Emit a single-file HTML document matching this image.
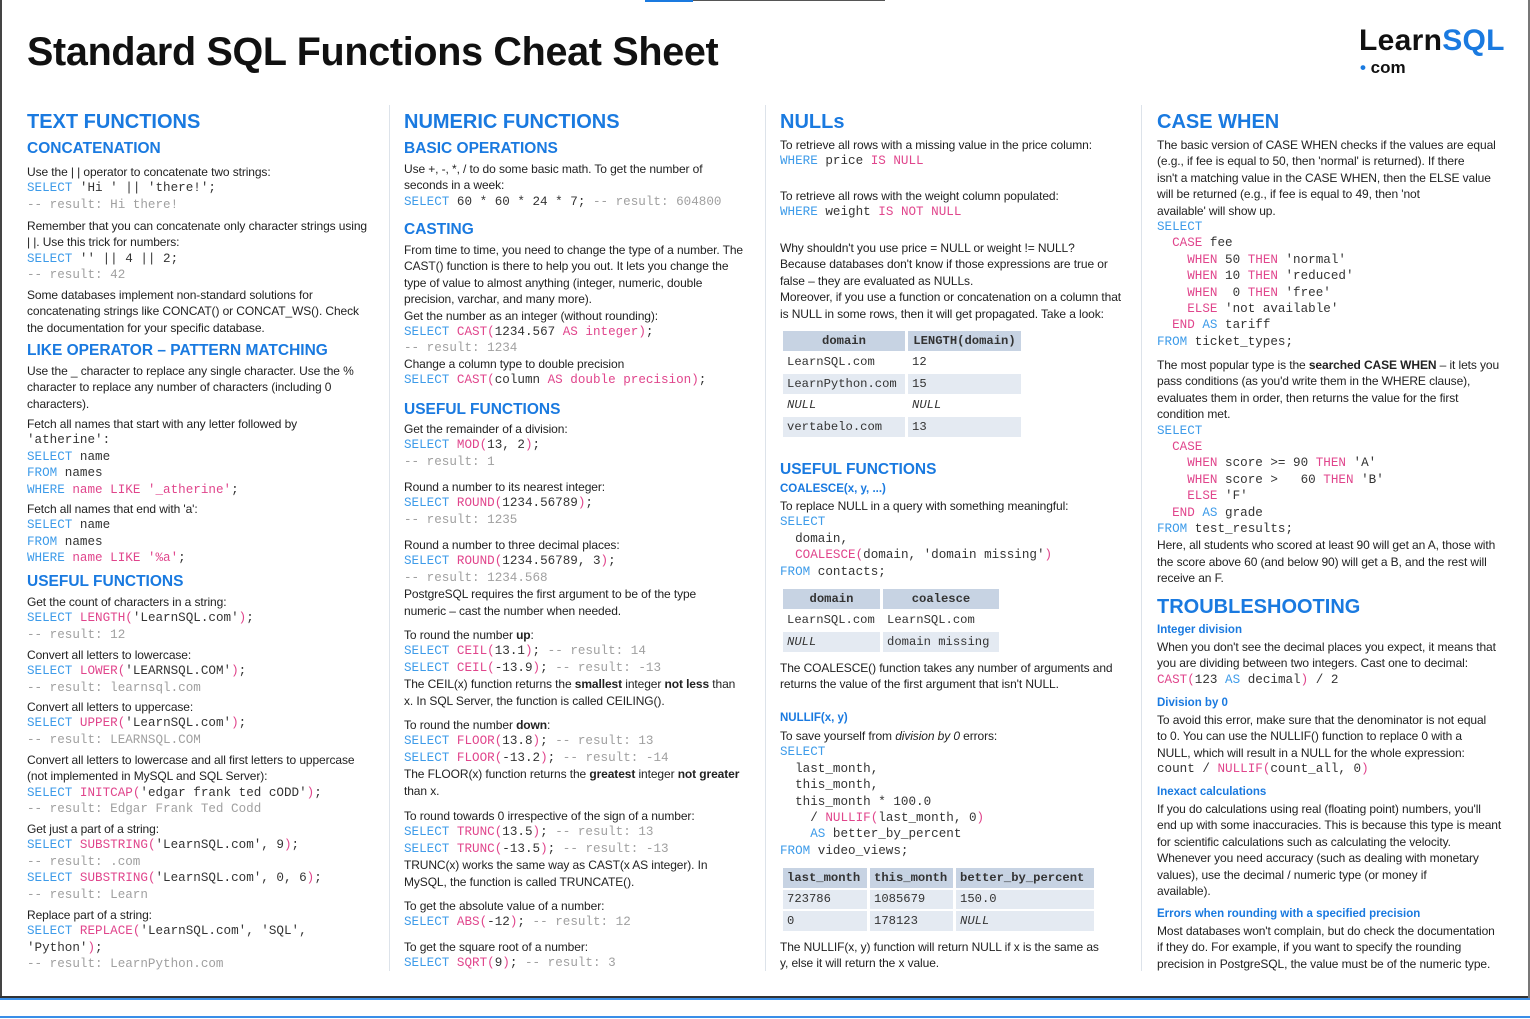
<!DOCTYPE html>
<html><head><meta charset="utf-8">
<style>
*{margin:0;padding:0;box-sizing:border-box}
body{width:1530px;height:1019px;background:#fff;position:relative;overflow:hidden;font-family:"Liberation Sans",sans-serif;color:#222}
.b{position:absolute;font-size:12px;line-height:16.4px;white-space:nowrap;letter-spacing:-0.1px}
.b div{height:16.4px}
.b .m{font-family:"Liberation Mono",monospace;font-size:12.6px;letter-spacing:0;color:#333}
.b .k,.k{color:#3d9be9}.b .f,.f{color:#e0458c}.b .c,.c{color:#a0a0a0}
.h1{position:absolute;font-weight:bold;font-size:20px;color:#1a7ae0;white-space:nowrap;letter-spacing:0}
.h2{position:absolute;font-weight:bold;font-size:15.5px;color:#1a7ae0;white-space:nowrap}
.h3{position:absolute;font-weight:bold;font-size:11.5px;color:#1a7ae0;white-space:nowrap}
.vl{position:absolute;top:105px;height:866px;width:1px;background:#dde3ea}
table{position:absolute;border-collapse:separate;border-spacing:3px 2px;font-family:"Liberation Mono",monospace;font-size:12.2px;color:#333}
td,th{height:19.5px;padding:0 4px;text-align:left}
th{background:#c7d3e3;text-align:center;font-weight:bold}
tr.g td{background:#e4eaf2}
i{font-style:italic}
</style></head><body>
<div style="position:absolute;left:645px;top:0;width:48px;height:2px;background:#1a7ae0"></div>
<div style="position:absolute;left:693px;top:0;width:192px;height:1px;background:#555"></div>
<div style="position:absolute;left:0;top:0;width:2px;height:998px;background:#444"></div>
<div style="position:absolute;left:0;top:996px;width:1530px;height:2px;background:#333"></div>
<div style="position:absolute;left:1528px;top:0;width:2px;height:998px;background:#777"></div>
<div style="position:absolute;left:0;top:998px;width:1530px;height:2px;background:#3a8ee8"></div>
<div style="position:absolute;left:0;top:1016px;width:1530px;height:2px;background:#3a8ee8"></div>

<div style="position:absolute;left:27px;top:30px;font-size:39.5px;font-weight:bold;color:#111;white-space:nowrap;letter-spacing:-0.3px">Standard SQL Functions Cheat Sheet</div>
<div style="position:absolute;left:1359px;top:24px;font-size:30px;font-weight:bold;letter-spacing:0.3px;white-space:nowrap"><span style="color:#111">Learn</span><span style="color:#1a7ae0">SQL</span></div>
<div style="position:absolute;left:1360px;top:58px;font-size:17px;font-weight:bold;white-space:nowrap;color:#111"><span style="color:#1a7ae0">•</span> com</div>

<div class="vl" style="left:389px"></div><div class="vl" style="left:765px"></div><div class="vl" style="left:1141px"></div>

<!-- COLUMN 1 -->
<div class="h1" style="left:27px;top:111px">TEXT FUNCTIONS</div>
<div class="h2" style="left:27px;top:140px">CONCATENATION</div>
<div class="b" style="left:27px;top:164px">
<div>Use the | | operator to concatenate two strings:</div>
<div class="m"><span class="k">SELECT</span> 'Hi ' || 'there!';</div>
<div class="m c">-- result: Hi there!</div></div>
<div class="b" style="left:27px;top:218px">
<div>Remember that you can concatenate only character strings using</div>
<div>| |. Use this trick for numbers:</div>
<div class="m"><span class="k">SELECT</span> '' || 4 || 2;</div>
<div class="m c">-- result: 42</div></div>
<div class="b" style="left:27px;top:287px">
<div>Some databases implement non-standard solutions for</div>
<div>concatenating strings like CONCAT() or CONCAT_WS(). Check</div>
<div>the documentation for your specific database.</div></div>
<div class="h2" style="left:27px;top:342px">LIKE OPERATOR – PATTERN MATCHING</div>
<div class="b" style="left:27px;top:363px">
<div>Use the _ character to replace any single character. Use the %</div>
<div>character to replace any number of characters (including 0</div>
<div>characters).</div></div>
<div class="b" style="left:27px;top:416px">
<div>Fetch all names that start with any letter followed by</div>
<div class="m">'atherine':</div>
<div class="m"><span class="k">SELECT</span> name</div>
<div class="m"><span class="k">FROM</span> names</div>
<div class="m"><span class="k">WHERE</span> <span class="f">name LIKE '_atherine'</span>;</div></div>
<div class="b" style="left:27px;top:501px">
<div>Fetch all names that end with 'a':</div>
<div class="m"><span class="k">SELECT</span> name</div>
<div class="m"><span class="k">FROM</span> names</div>
<div class="m"><span class="k">WHERE</span> <span class="f">name LIKE '%a'</span>;</div></div>
<div class="h2" style="left:27px;top:573px">USEFUL FUNCTIONS</div>
<div class="b" style="left:27px;top:594px">
<div>Get the count of characters in a string:</div>
<div class="m"><span class="k">SELECT</span> <span class="f">LENGTH(</span>'LearnSQL.com'<span class="f">)</span>;</div>
<div class="m c">-- result: 12</div></div>
<div class="b" style="left:27px;top:647px">
<div>Convert all letters to lowercase:</div>
<div class="m"><span class="k">SELECT</span> <span class="f">LOWER(</span>'LEARNSQL.COM'<span class="f">)</span>;</div>
<div class="m c">-- result: learnsql.com</div></div>
<div class="b" style="left:27px;top:699px">
<div>Convert all letters to uppercase:</div>
<div class="m"><span class="k">SELECT</span> <span class="f">UPPER(</span>'LearnSQL.com'<span class="f">)</span>;</div>
<div class="m c">-- result: LEARNSQL.COM</div></div>
<div class="b" style="left:27px;top:752px">
<div>Convert all letters to lowercase and all first letters to uppercase</div>
<div>(not implemented in MySQL and SQL Server):</div>
<div class="m"><span class="k">SELECT</span> <span class="f">INITCAP(</span>'edgar frank ted cODD'<span class="f">)</span>;</div>
<div class="m c">-- result: Edgar Frank Ted Codd</div></div>
<div class="b" style="left:27px;top:821px">
<div>Get just a part of a string:</div>
<div class="m"><span class="k">SELECT</span> <span class="f">SUBSTRING(</span>'LearnSQL.com', 9<span class="f">)</span>;</div>
<div class="m c">-- result: .com</div>
<div class="m"><span class="k">SELECT</span> <span class="f">SUBSTRING(</span>'LearnSQL.com', 0, 6<span class="f">)</span>;</div>
<div class="m c">-- result: Learn</div></div>
<div class="b" style="left:27px;top:907px">
<div>Replace part of a string:</div>
<div class="m"><span class="k">SELECT</span> <span class="f">REPLACE(</span>'LearnSQL.com', 'SQL',</div>
<div class="m">'Python'<span class="f">)</span>;</div>
<div class="m c">-- result: LearnPython.com</div></div>

<!-- COLUMN 2 -->
<div class="h1" style="left:404px;top:111px">NUMERIC FUNCTIONS</div>
<div class="h2" style="left:404px;top:140px">BASIC OPERATIONS</div>
<div class="b" style="left:404px;top:161px">
<div>Use +, -, *, / to do some basic math. To get the number of</div>
<div>seconds in a week:</div>
<div class="m"><span class="k">SELECT</span> 60 * 60 * 24 * 7; <span class="c">-- result: 604800</span></div></div>
<div class="h2" style="left:404px;top:221px">CASTING</div>
<div class="b" style="left:404px;top:242px">
<div>From time to time, you need to change the type of a number. The</div>
<div>CAST() function is there to help you out. It lets you change the</div>
<div>type of value to almost anything (integer, numeric, double</div>
<div>precision, varchar, and many more).</div>
<div>Get the number as an integer (without rounding):</div>
<div class="m"><span class="k">SELECT</span> <span class="f">CAST(</span>1234.567 <span class="f">AS integer)</span>;</div>
<div class="m c">-- result: 1234</div></div>
<div class="b" style="left:404px;top:356px">
<div>Change a column type to double precision</div>
<div class="m"><span class="k">SELECT</span> <span class="f">CAST(</span>column <span class="f">AS double precision)</span>;</div></div>
<div class="h2" style="left:404px;top:401px">USEFUL FUNCTIONS</div>
<div class="b" style="left:404px;top:421px">
<div>Get the remainder of a division:</div>
<div class="m"><span class="k">SELECT</span> <span class="f">MOD(</span>13, 2<span class="f">)</span>;</div>
<div class="m c">-- result: 1</div></div>
<div class="b" style="left:404px;top:479px">
<div>Round a number to its nearest integer:</div>
<div class="m"><span class="k">SELECT</span> <span class="f">ROUND(</span>1234.56789<span class="f">)</span>;</div>
<div class="m c">-- result: 1235</div></div>
<div class="b" style="left:404px;top:537px">
<div>Round a number to three decimal places:</div>
<div class="m"><span class="k">SELECT</span> <span class="f">ROUND(</span>1234.56789, 3<span class="f">)</span>;</div>
<div class="m c">-- result: 1234.568</div>
<div>PostgreSQL requires the first argument to be of the type</div>
<div>numeric – cast the number when needed.</div></div>
<div class="b" style="left:404px;top:627px">
<div>To round the number <b>up</b>:</div>
<div class="m"><span class="k">SELECT</span> <span class="f">CEIL(</span>13.1<span class="f">)</span>; <span class="c">-- result: 14</span></div>
<div class="m"><span class="k">SELECT</span> <span class="f">CEIL(</span>-13.9<span class="f">)</span>; <span class="c">-- result: -13</span></div>
<div>The CEIL(x) function returns the <b>smallest</b> integer <b>not less</b> than</div>
<div>x. In SQL Server, the function is called CEILING().</div></div>
<div class="b" style="left:404px;top:717px">
<div>To round the number <b>down</b>:</div>
<div class="m"><span class="k">SELECT</span> <span class="f">FLOOR(</span>13.8<span class="f">)</span>; <span class="c">-- result: 13</span></div>
<div class="m"><span class="k">SELECT</span> <span class="f">FLOOR(</span>-13.2<span class="f">)</span>; <span class="c">-- result: -14</span></div>
<div>The FLOOR(x) function returns the <b>greatest</b> integer <b>not greater</b></div>
<div>than x.</div></div>
<div class="b" style="left:404px;top:808px">
<div>To round towards 0 irrespective of the sign of a number:</div>
<div class="m"><span class="k">SELECT</span> <span class="f">TRUNC(</span>13.5<span class="f">)</span>; <span class="c">-- result: 13</span></div>
<div class="m"><span class="k">SELECT</span> <span class="f">TRUNC(</span>-13.5<span class="f">)</span>; <span class="c">-- result: -13</span></div>
<div>TRUNC(x) works the same way as CAST(x AS integer). In</div>
<div>MySQL, the function is called TRUNCATE().</div></div>
<div class="b" style="left:404px;top:898px">
<div>To get the absolute value of a number:</div>
<div class="m"><span class="k">SELECT</span> <span class="f">ABS(</span>-12<span class="f">)</span>; <span class="c">-- result: 12</span></div></div>
<div class="b" style="left:404px;top:939px">
<div>To get the square root of a number:</div>
<div class="m"><span class="k">SELECT</span> <span class="f">SQRT(</span>9<span class="f">)</span>; <span class="c">-- result: 3</span></div></div>

<!-- COLUMN 3 -->
<div class="h1" style="left:780px;top:111px">NULLs</div>
<div class="b" style="left:780px;top:137px">
<div>To retrieve all rows with a missing value in the price column:</div>
<div class="m"><span class="k">WHERE</span> price <span class="f">IS NULL</span></div></div>
<div class="b" style="left:780px;top:188px">
<div>To retrieve all rows with the weight column populated:</div>
<div class="m"><span class="k">WHERE</span> weight <span class="f">IS NOT NULL</span></div></div>
<div class="b" style="left:780px;top:240px">
<div>Why shouldn't you use price = NULL or weight != NULL?</div>
<div>Because databases don't know if those expressions are true or</div>
<div>false – they are evaluated as NULLs.</div>
<div>Moreover, if you use a function or concatenation on a column that</div>
<div>is NULL in some rows, then it will get propagated. Take a look:</div></div>
<table style="left:780px;top:329px">
<tr><th style="width:122px">domain</th><th style="width:113px">LENGTH(domain)</th></tr>
<tr><td>LearnSQL.com</td><td>12</td></tr>
<tr class="g"><td>LearnPython.com</td><td>15</td></tr>
<tr><td><i>NULL</i></td><td><i>NULL</i></td></tr>
<tr class="g"><td>vertabelo.com</td><td>13</td></tr>
</table>
<div class="h2" style="left:780px;top:461px">USEFUL FUNCTIONS</div>
<div class="h3" style="left:780px;top:483px">COALESCE(x, y, ...)</div>
<div class="b" style="left:780px;top:498px">
<div>To replace NULL in a query with something meaningful:</div>
<div class="m k">SELECT</div>
<div class="m">&nbsp; domain,</div>
<div class="m">&nbsp; <span class="f">COALESCE(</span>domain, 'domain missing'<span class="f">)</span></div>
<div class="m"><span class="k">FROM</span> contacts;</div></div>
<table style="left:780px;top:587px">
<tr><th style="width:97px">domain</th><th style="width:116px">coalesce</th></tr>
<tr><td>LearnSQL.com</td><td>LearnSQL.com</td></tr>
<tr class="g"><td><i>NULL</i></td><td>domain missing</td></tr>
</table>
<div class="b" style="left:780px;top:660px">
<div>The COALESCE() function takes any number of arguments and</div>
<div>returns the value of the first argument that isn't NULL.</div></div>
<div class="h3" style="left:780px;top:712px">NULLIF(x, y)</div>
<div class="b" style="left:780px;top:728px">
<div>To save yourself from <i>division by 0</i> errors:</div>
<div class="m k">SELECT</div>
<div class="m">&nbsp; last_month,</div>
<div class="m">&nbsp; this_month,</div>
<div class="m">&nbsp; this_month * 100.0</div>
<div class="m">&nbsp;&nbsp;&nbsp; / <span class="f">NULLIF(</span>last_month, 0<span class="f">)</span></div>
<div class="m">&nbsp;&nbsp;&nbsp; <span class="k">AS</span> better_by_percent</div>
<div class="m"><span class="k">FROM</span> video_views;</div></div>
<table style="left:780px;top:866px">
<tr><th style="width:84px;text-align:left">last_month</th><th style="width:83px;text-align:left">this_month</th><th style="width:138px;text-align:left">better_by_percent</th></tr>
<tr class="g"><td>723786</td><td>1085679</td><td>150.0</td></tr>
<tr class="g"><td>0</td><td>178123</td><td><i>NULL</i></td></tr>
</table>
<div class="b" style="left:780px;top:939px">
<div>The NULLIF(x, y) function will return NULL if x is the same as</div>
<div>y, else it will return the x value.</div></div>

<!-- COLUMN 4 -->
<div class="h1" style="left:1157px;top:111px">CASE WHEN</div>
<div class="b" style="left:1157px;top:137px">
<div>The basic version of CASE WHEN checks if the values are equal</div>
<div>(e.g., if fee is equal to 50, then 'normal' is returned). If there</div>
<div>isn't a matching value in the CASE WHEN, then the ELSE value</div>
<div>will be returned (e.g., if fee is equal to 49, then 'not</div>
<div>available' will show up.</div>
<div class="m k">SELECT</div>
<div class="m">&nbsp; <span class="f">CASE</span> fee</div>
<div class="m">&nbsp;&nbsp;&nbsp; <span class="f">WHEN</span> 50 <span class="f">THEN</span> 'normal'</div>
<div class="m">&nbsp;&nbsp;&nbsp; <span class="f">WHEN</span> 10 <span class="f">THEN</span> 'reduced'</div>
<div class="m">&nbsp;&nbsp;&nbsp; <span class="f">WHEN</span>&nbsp; 0 <span class="f">THEN</span> 'free'</div>
<div class="m">&nbsp;&nbsp;&nbsp; <span class="f">ELSE</span> 'not available'</div>
<div class="m">&nbsp; <span class="f">END</span> <span class="k">AS</span> tariff</div>
<div class="m"><span class="k">FROM</span> ticket_types;</div></div>
<div class="b" style="left:1157px;top:357px">
<div>The most popular type is the <b>searched CASE WHEN</b> – it lets you</div>
<div>pass conditions (as you'd write them in the WHERE clause),</div>
<div>evaluates them in order, then returns the value for the first</div>
<div>condition met.</div>
<div class="m k">SELECT</div>
<div class="m">&nbsp; <span class="f">CASE</span></div>
<div class="m">&nbsp;&nbsp;&nbsp; <span class="f">WHEN</span> score >= 90 <span class="f">THEN</span> 'A'</div>
<div class="m">&nbsp;&nbsp;&nbsp; <span class="f">WHEN</span> score &gt;&nbsp;&nbsp; 60 <span class="f">THEN</span> 'B'</div>
<div class="m">&nbsp;&nbsp;&nbsp; <span class="f">ELSE</span> 'F'</div>
<div class="m">&nbsp; <span class="f">END</span> <span class="k">AS</span> grade</div>
<div class="m"><span class="k">FROM</span> test_results;</div>
<div>Here, all students who scored at least 90 will get an A, those with</div>
<div>the score above 60 (and below 90) will get a B, and the rest will</div>
<div>receive an F.</div></div>
<div class="h1" style="left:1157px;top:596px">TROUBLESHOOTING</div>
<div class="h3" style="left:1157px;top:624px">Integer division</div>
<div class="b" style="left:1157px;top:639px">
<div>When you don't see the decimal places you expect, it means that</div>
<div>you are dividing between two integers. Cast one to decimal:</div>
<div class="m"><span class="f">CAST(</span>123 <span class="k">AS</span> decimal<span class="f">)</span> / 2</div></div>
<div class="h3" style="left:1157px;top:697px">Division by 0</div>
<div class="b" style="left:1157px;top:712px">
<div>To avoid this error, make sure that the denominator is not equal</div>
<div>to 0. You can use the NULLIF() function to replace 0 with a</div>
<div>NULL, which will result in a NULL for the whole expression:</div>
<div class="m">count / <span class="f">NULLIF(</span>count_all, 0<span class="f">)</span></div></div>
<div class="h3" style="left:1157px;top:786px">Inexact calculations</div>
<div class="b" style="left:1157px;top:801px">
<div>If you do calculations using real (floating point) numbers, you'll</div>
<div>end up with some inaccuracies. This is because this type is meant</div>
<div>for scientific calculations such as calculating the velocity.</div>
<div>Whenever you need accuracy (such as dealing with monetary</div>
<div>values), use the decimal / numeric type (or money if</div>
<div>available).</div></div>
<div class="h3" style="left:1157px;top:908px">Errors when rounding with a specified precision</div>
<div class="b" style="left:1157px;top:923px">
<div>Most databases won't complain, but do check the documentation</div>
<div>if they do. For example, if you want to specify the rounding</div>
<div>precision in PostgreSQL, the value must be of the numeric type.</div></div>
</body></html>
